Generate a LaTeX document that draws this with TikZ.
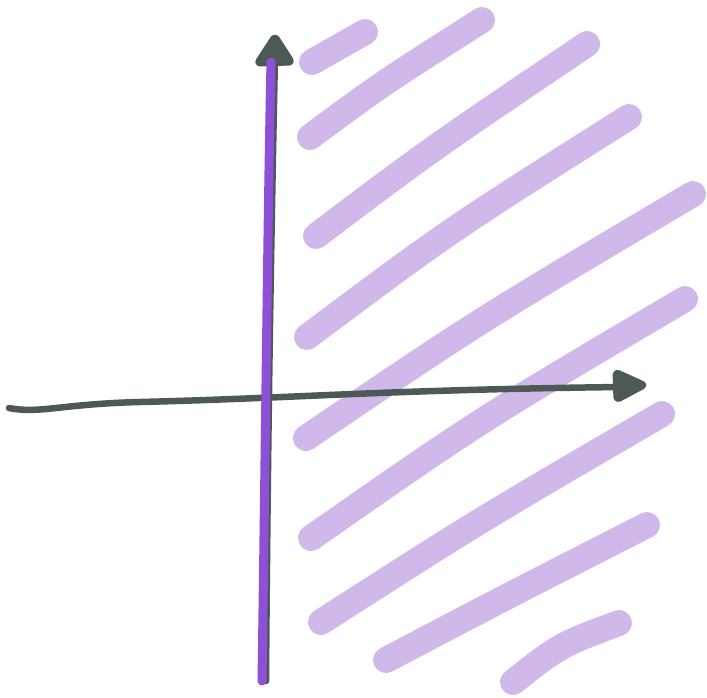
\documentclass[tikz,border=0pt]{standalone}
\usepackage{tikz}
\definecolor{hatchpurple}{HTML}{D0B8EB}
\definecolor{linepurple}{HTML}{8E50D6}
\definecolor{axisgrey}{HTML}{4C5957}
\tikzset{
  hatch/.style={draw=hatchpurple, line width=26pt, line cap=round},
  axisline/.style={draw=axisgrey, line width=6.5pt, line cap=round},
  purpleline/.style={draw=linepurple, line width=9pt, line cap=round},
  arrowhead/.style={fill=axisgrey, draw=axisgrey, line width=5pt, line join=round, rounded corners=4pt},
}
\begin{document}
\begin{tikzpicture}[x=1pt,y=-1pt]
\useasboundingbox (0,0) rectangle (707,697);
% hatching
\draw[hatch] (312,62) -- (365,32);
\draw[hatch] (310,137) .. controls (380,85) .. (482,20);
\draw[hatch] (316,236) .. controls (430,150) .. (587,44);
\draw[hatch] (307,337) .. controls (450,230) .. (629,117);
\draw[hatch] (306,438) .. controls (480,320) .. (693,194);
\draw[hatch] (311,538) .. controls (480,420) .. (685,299);
\draw[hatch] (321,622) .. controls (480,520) .. (662,414);
\draw[hatch] (386,660) .. controls (500,600) .. (647,525);
\draw[hatch] (513,682) .. controls (560,645) .. (619,623);
% axes
\coordinate (vbot) at (266,681);
\coordinate (vtop) at (275,55);
\coordinate (hleft) at (9,408);
\coordinate (hright) at (620,387);
\draw[axisline] (vbot) .. controls (268,400) and (272,200) .. (vtop);
\draw[axisline] (hleft) .. controls (40,414) and (60,404) .. (140,402)
  .. controls (300,398) and (380,390) .. (hright);
\draw[arrowhead] (275,35) -- (293,63) -- (256,64) -- cycle;
\draw[arrowhead] (646,385) -- (615,371) -- (616,401) -- cycle;
\draw[purpleline] (262,681) .. controls (266,400) and (268,200) .. (271,62);
\end{tikzpicture}
\end{document}
